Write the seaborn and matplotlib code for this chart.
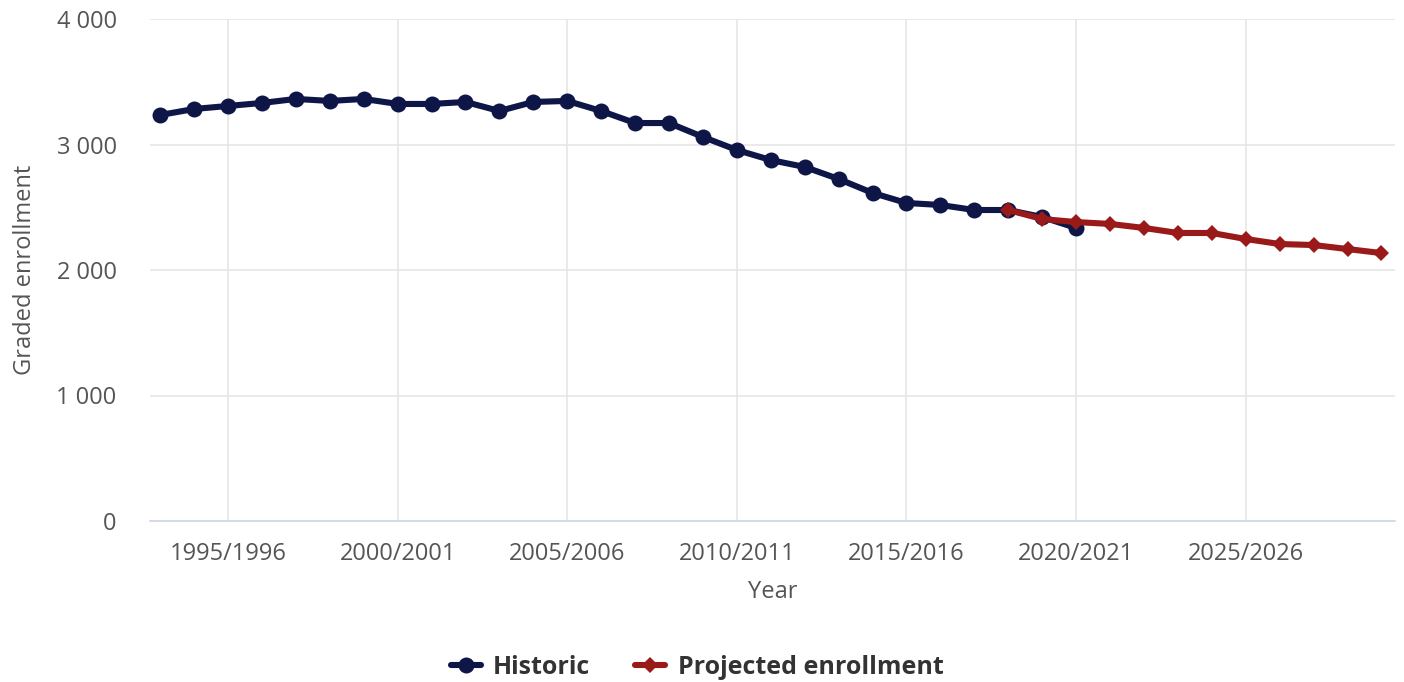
import matplotlib
matplotlib.use("Agg")
import matplotlib.pyplot as plt
import seaborn as sns
import pandas as pd
from matplotlib.lines import Line2D

hist_years = list(range(1993, 2021))
hist_values = [3235, 3283, 3307, 3331, 3363, 3347, 3363, 3323, 3323, 3339,
               3267, 3339, 3347, 3267, 3171, 3171, 3060, 2956, 2876, 2821,
               2725, 2614, 2534, 2518, 2478, 2478, 2422, 2335]
proj_years = list(range(2018, 2030))
proj_values = [2478, 2406, 2382, 2367, 2335, 2295, 2295, 2247, 2207, 2199,
               2167, 2135]
tick_years = [1995, 2000, 2005, 2010, 2015, 2020, 2025]

def lab(y):
    return f"{y}/{y+1}"

all_years = list(range(1993, 2030))
categories = [lab(y) for y in all_years]

hist_df = pd.DataFrame({"Year": [lab(y) for y in hist_years], "val": hist_values})
proj_df = pd.DataFrame({"Year": [lab(y) for y in proj_years], "val": proj_values})

sns.set_style("white")
plt.rcParams['font.family'] = ['Open Sans', 'DejaVu Sans']

fig = plt.figure(figsize=(14.04, 6.82), dpi=100)
ax = fig.add_axes([150/1404, 1-521/682, (1395-150)/1404, (521-19)/682])

# establish category order
ax.plot(categories, [None]*len(categories), alpha=0)

c_hist = "#0d1646"
c_proj = "#9a1a1a"
LW = 4.4
sns.lineplot(data=hist_df, x="Year", y="val", ax=ax, color=c_hist, lw=LW,
             marker="o", markersize=11.5, markeredgewidth=0, sort=False, zorder=3)
sns.lineplot(data=proj_df, x="Year", y="val", ax=ax, color=c_proj, lw=LW,
             marker="D", markersize=8.5, markeredgewidth=0, sort=False, zorder=4)

ax.set_ylim(0, 4000)
ax.set_xlim(-0.3, len(categories) - 1 + 0.4)
ax.set_yticks([0, 1000, 2000, 3000, 4000])
ax.set_yticklabels(["0", "1 000", "2 000", "3 000", "4 000"])
tick_pos = [all_years.index(y) for y in tick_years]
ax.set_xticks(tick_pos)
ax.set_xticklabels([lab(y) for y in tick_years])

grid_c = "#e6e6e6"
ax.grid(True, axis="both", color=grid_c, lw=1.2)
ax.set_axisbelow(True)
for s in ["top", "right", "left"]:
    ax.spines[s].set_visible(False)
ax.spines["bottom"].set_color("#ccd6eb")
ax.spines["bottom"].set_linewidth(1.2)
ax.tick_params(axis="x", length=12, color="#ccd6eb", width=1.2, labelsize=17,
               labelcolor="#555555", pad=3)
ax.tick_params(axis="y", length=0, labelsize=17, labelcolor="#555555", pad=24)

ax.set_xlabel("Year", fontsize=17, color="#555555", labelpad=10)
ax.set_ylabel("Graded enrollment", fontsize=17, color="#555555", labelpad=14)

handles = [
    Line2D([0], [0], color=c_hist, lw=LW, marker="o", markersize=11.5, markeredgewidth=0),
    Line2D([0], [0], color=c_proj, lw=LW, marker="D", markersize=8.5, markeredgewidth=0),
]
leg = fig.legend(handles, ["Historic", "Projected enrollment"], loc="center",
                 bbox_to_anchor=(697/1404, 1-667/682), ncol=2, frameon=False,
                 handlelength=1.2, columnspacing=1.8, handletextpad=0.5,
                 prop={"size": 18, "weight": "bold"})
for t in leg.get_texts():
    t.set_color("#333333")

fig.savefig("out.png", dpi=100, facecolor="white")
